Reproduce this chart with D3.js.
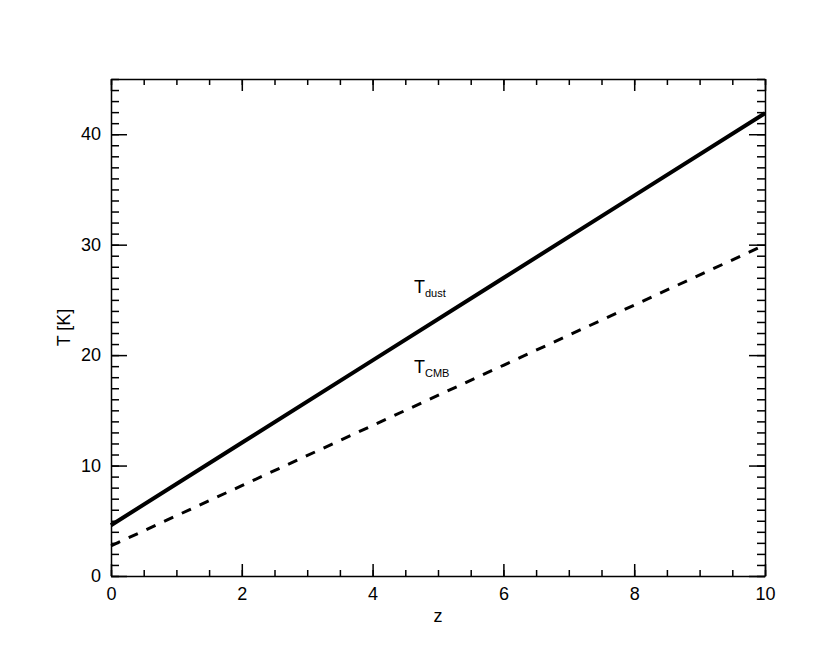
<!DOCTYPE html>
<html>
<head>
<meta charset="utf-8">
<script src="https://cdn.jsdelivr.net/npm/d3@7"></script>
<style>
  body { margin: 0; background: #fff; }
  svg { font-family: "Liberation Sans", Arial, Helvetica, sans-serif; }
  .axis path, .axis line { stroke: #000; stroke-width: 1.5; }
  .axis text { font-size: 18px; fill: #000; }
</style>
</head>
<body>
<script>
// redshift and temperatures
var zValues = [0, 2, 4, 6, 8, 10];
var tDust = [4.6, 12.06, 19.52, 26.98, 34.44, 41.9];
var tCMB = [2.73, 8.18, 13.63, 19.08, 24.53, 29.98];
var xTicks = [0, 2, 4, 6, 8, 10];
var yTicks = [0, 10, 20, 30, 40];

var width = 830, height = 664;
var plotLeft = 111, plotRight = 765, plotTop = 79, plotBottom = 576;

var x = d3.scaleLinear().domain([0, 10]).range([plotLeft, plotRight]);
var y = d3.scaleLinear().domain([0, 45]).range([plotBottom, plotTop]);

var svg = d3.select("body").append("svg")
      .attr("width", width)
      .attr("height", height);

// minor ticks
var xMinor = d3.range(0, 10.01, 0.5);
var yMinor = d3.range(0, 45.01, 1);

function minorAxis(axis, tr) {
  svg.append("g").attr("class", "axis").attr("transform", tr)
      .call(axis).call(function (s) { s.selectAll("text").remove(); s.select(".domain").remove(); });
}

minorAxis(d3.axisBottom(x).tickValues(xMinor).tickSize(-6), "translate(0," + plotBottom + ")");
minorAxis(d3.axisTop(x).tickValues(xMinor).tickSize(-6), "translate(0," + plotTop + ")");
minorAxis(d3.axisLeft(y).tickValues(yMinor).tickSize(-8), "translate(" + plotLeft + ",0)");
minorAxis(d3.axisRight(y).tickValues(yMinor).tickSize(-8), "translate(" + plotRight + ",0)");

// major ticks with labels
svg.append("g").attr("class", "axis")
      .attr("transform", "translate(0," + plotBottom + ")")
      .call(d3.axisBottom(x).tickValues(xTicks).tickSize(-12).tickSizeOuter(0).tickPadding(11).tickFormat(d3.format("d")));

svg.append("g").attr("class", "axis")
      .attr("transform", "translate(" + plotLeft + ",0)")
      .call(d3.axisLeft(y).tickValues(yTicks).tickSize(-16).tickSizeOuter(0).tickPadding(10).tickFormat(d3.format("d")));

svg.append("g").attr("class", "axis")
      .attr("transform", "translate(0," + plotTop + ")")
      .call(d3.axisTop(x).tickValues(xTicks).tickSize(-12).tickSizeOuter(0).tickFormat(""));

svg.append("g").attr("class", "axis")
      .attr("transform", "translate(" + plotRight + ",0)")
      .call(d3.axisRight(y).tickValues(yTicks).tickSize(-16).tickSizeOuter(0).tickFormat(""));

svg.selectAll(".axis .tick text").attr("font-size", 18);

// curves
var line = d3.line()
      .x(function (d) { return x(d[0]); })
      .y(function (d) { return y(d[1]); });

svg.append("path")
      .datum(zValues.map(function (z, i) { return [z, tDust[i]]; }))
      .attr("d", line)
      .attr("fill", "none")
      .attr("stroke", "#000")
      .attr("stroke-width", 4);

svg.append("path")
      .datum(zValues.map(function (z, i) { return [z, tCMB[i]]; }))
      .attr("d", line)
      .attr("fill", "none")
      .attr("stroke", "#000")
      .attr("stroke-width", 3)
      .attr("stroke-dasharray", "10,9.5");

// curve labels
function label(xp, yp, sub) {
  var t = svg.append("text")
      .attr("x", xp)
      .attr("y", yp)
      .attr("font-size", 18);
  t.append("tspan").text("T");
  t.append("tspan").attr("font-size", 11).attr("dy", 4).text(sub);
}
label(414, 293, "dust");
label(414, 373, "CMB");

// axis titles
svg.append("text")
      .attr("x", (plotLeft + plotRight) / 2)
      .attr("y", 622)
      .attr("text-anchor", "middle")
      .attr("font-size", 18)
      .text("z");

svg.append("text")
      .attr("transform", "translate(70," + (plotTop + plotBottom) / 2 + ") rotate(-90)")
      .attr("text-anchor", "middle")
      .attr("font-size", 18)
      .text("T [K]");
</script>
</body>
</html>
